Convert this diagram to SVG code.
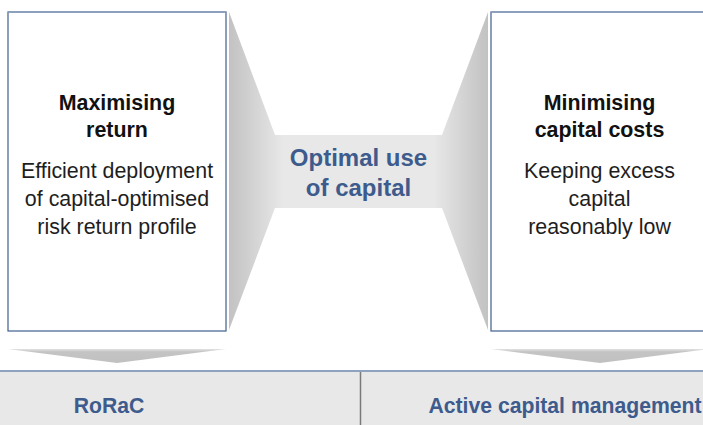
<svg xmlns="http://www.w3.org/2000/svg" width="703" height="425" viewBox="0 0 703 425">
  <defs>
    <linearGradient id="funnelFill" gradientUnits="userSpaceOnUse" x1="229" y1="0" x2="488" y2="0">
      <stop offset="0" stop-color="#c2c2c2"/>
      <stop offset="0.21" stop-color="#e8e8e8"/>
      <stop offset="0.79" stop-color="#e8e8e8"/>
      <stop offset="1" stop-color="#c2c2c2"/>
    </linearGradient>
    <linearGradient id="arrowFill" x1="0" y1="0" x2="0" y2="1">
      <stop offset="0" stop-color="#e2e2e2"/>
      <stop offset="0.2" stop-color="#c4c4c4"/>
      <stop offset="1" stop-color="#c0c0c0"/>
    </linearGradient>
  </defs>
  <style>
    .box { fill: #ffffff; stroke: #3f5e8f; stroke-width: 1.2; }
    .boxtop { stroke: #8ea2c0; stroke-width: 1.5; }
    .title { font-family: "Liberation Sans", Arial, sans-serif; font-weight: bold; font-size: 21.4px; fill: #111111; text-anchor: middle; }
    .body { font-family: "Liberation Sans", Arial, sans-serif; font-size: 21.4px; fill: #1e1e1e; text-anchor: middle; }
    .blue { font-family: "Liberation Sans", Arial, sans-serif; font-weight: bold; fill: #3d5b8c; text-anchor: middle; }
    .arrow { fill: url(#arrowFill); }
  </style>

  <!-- hourglass connecting both boxes through the central band -->
  <g id="connectors">
    <polygon fill="url(#funnelFill)" points="229,12 275,135 442,135 488,12 488,330 442,208 275,208 229,330"/>
    <polygon class="arrow" points="8,349 226,349 117,363"/>
    <polygon class="arrow" points="491,349 709,349 600,363"/>
  </g>

  <g id="centre">
    <text class="blue" font-size="24" x="358.5" y="166">Optimal use</text>
    <text class="blue" font-size="24" x="358.5" y="196">of capital</text>
  </g>

  <g id="maximising">
    <rect class="box" x="8" y="12" width="218" height="319"/>
    <line class="boxtop" x1="8" y1="12" x2="226" y2="12"/>
    <text class="title" x="117" y="110">Maximising</text>
    <text class="title" x="117" y="137">return</text>
    <text class="body" x="117" y="178">Efficient deployment</text>
    <text class="body" x="117" y="206">of capital-optimised</text>
    <text class="body" x="117" y="234">risk return profile</text>
  </g>

  <g id="minimising">
    <rect class="box" x="491" y="12" width="218" height="319"/>
    <line class="boxtop" x1="491" y1="12" x2="709" y2="12"/>
    <text class="title" x="599.5" y="110">Minimising</text>
    <text class="title" x="599.5" y="137">capital costs</text>
    <text class="body" x="599.5" y="178">Keeping excess</text>
    <text class="body" x="599.5" y="206">capital</text>
    <text class="body" x="599.5" y="234">reasonably low</text>
  </g>

  <g id="footer">
    <rect x="0" y="371" width="703" height="54" fill="#e8e8e8"/>
    <line x1="0" y1="371" x2="703" y2="371" stroke="#8fa2bf" stroke-width="2"/>
    <line x1="360.5" y1="372" x2="360.5" y2="425" stroke="#7a7a7a" stroke-width="1.5"/>
    <text class="blue" font-size="21.2" x="109" y="413">RoRaC</text>
    <text class="blue" font-size="21.2" x="565" y="413">Active capital management</text>
  </g>
</svg>
